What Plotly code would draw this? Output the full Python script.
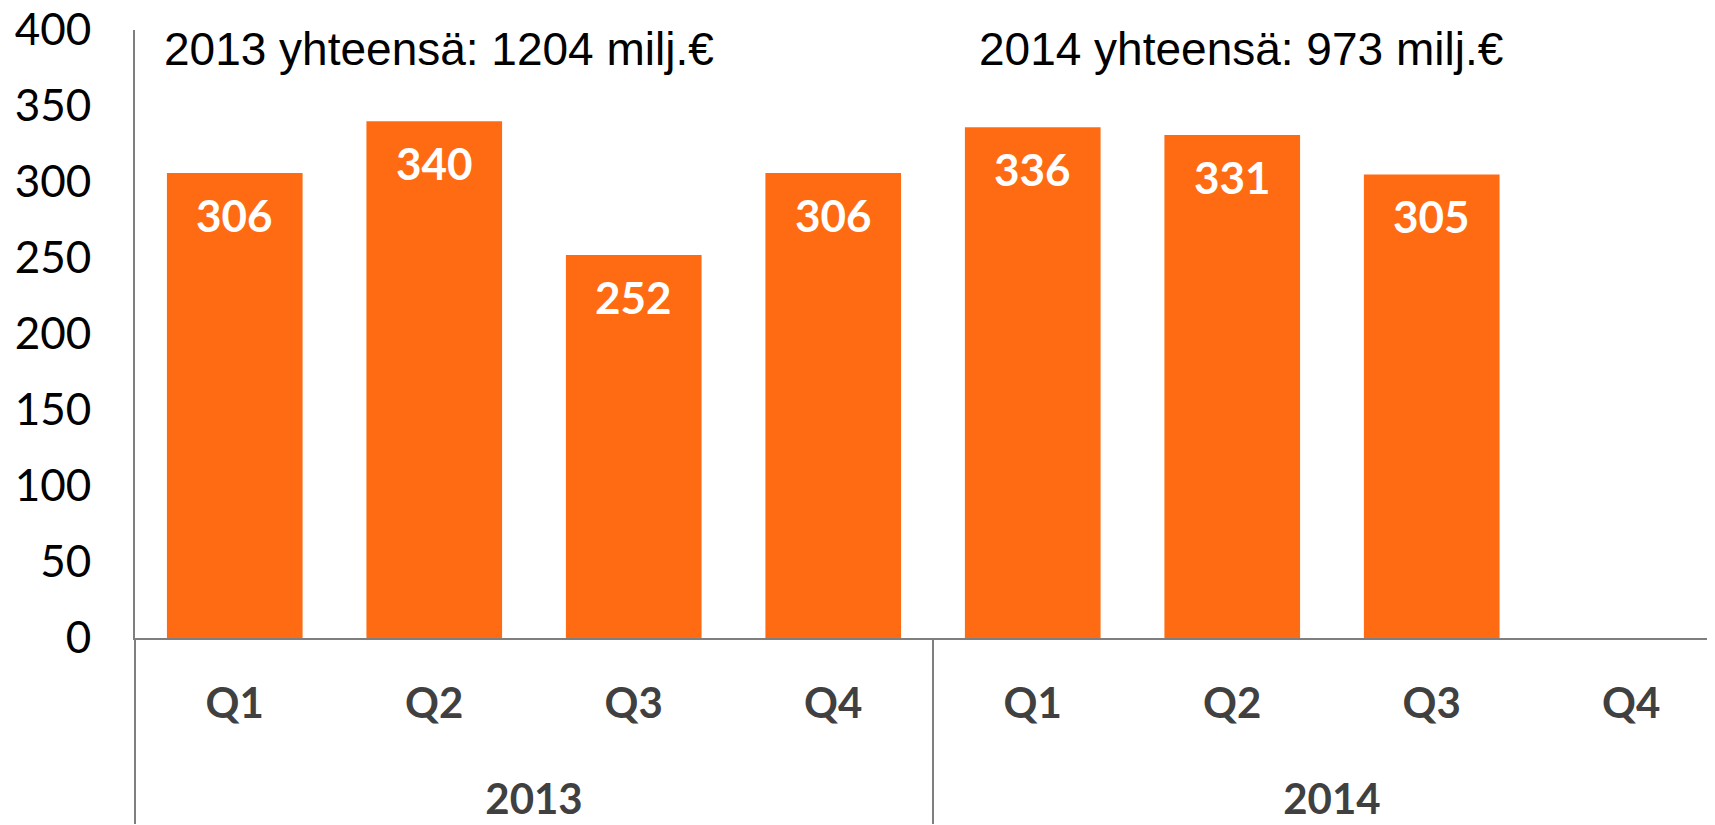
import plotly.graph_objects as go

years = ["2013", "2013", "2013", "2013", "2014", "2014", "2014", "2014"]
quarters = ["Q1", "Q2", "Q3", "Q4", "Q1", "Q2", "Q3", "Q4"]
values = [306, 340, 252, 306, 336, 331, 305, None]
totals = ["2013 yhteensä: 1204 milj.€", "2014 yhteensä: 973 milj.€"]
total_pos = [0.017, 0.530]

orange = "#FF6B12"
grey = "#7F7F7F"

# year labels pushed down one line; quarters get tall invisible padding so
# plotly puts the second label row a bit lower, like the original
pad = "<span style='font-size:56px;color:rgba(0,0,0,0)'>.</span>"
year_labels = ["<br>" + y for y in years]
quarter_labels = [pad + q + pad for q in quarters]

fig = go.Figure()
fig.add_trace(go.Bar(x=[year_labels, quarter_labels], y=values, marker_color=orange, marker_line_width=0,
                     hoverinfo="y", showlegend=False))

for i, v in enumerate(values):
    if v is None:
        continue
    fig.add_annotation(x=i, y=v, xref="x", yref="y", text=f"<b>{v}</b>", showarrow=False,
                       yanchor="middle", yshift=-42, font=dict(size=44, color="white", family="Lato"))

for t, px in zip(totals, total_pos):
    fig.add_annotation(x=px, y=0.969, xref="paper", yref="paper", text=t, showarrow=False,
                       xanchor="left", yanchor="middle", font=dict(size=46, color="black", family="Liberation Sans"))

fig.update_xaxes(type="multicategory", range=[-0.5, 7.46], showline=True, linecolor=grey, linewidth=2,
                 showgrid=False, showdividers=True, dividercolor=grey, dividerwidth=1.5,
                 automargin=False, ticklabelstandoff=28,
                 tickfont=dict(size=42, color="#404040", family="Lato", weight="bold"))
fig.update_yaxes(range=[0, 400], dtick=50, showline=True, linecolor=grey, linewidth=2, showgrid=False,
                 zeroline=False, ticks="", ticklabelstandoff=33, automargin=False, ticklabeloverflow="allow",
                 tickfont=dict(size=44, color="black", family="Lato"))
fig.update_layout(width=1715, height=825, margin=dict(l=127, r=0, t=22, b=195), bargap=0.32,
                  plot_bgcolor="white", paper_bgcolor="white")

fig.write_html("out.html")
